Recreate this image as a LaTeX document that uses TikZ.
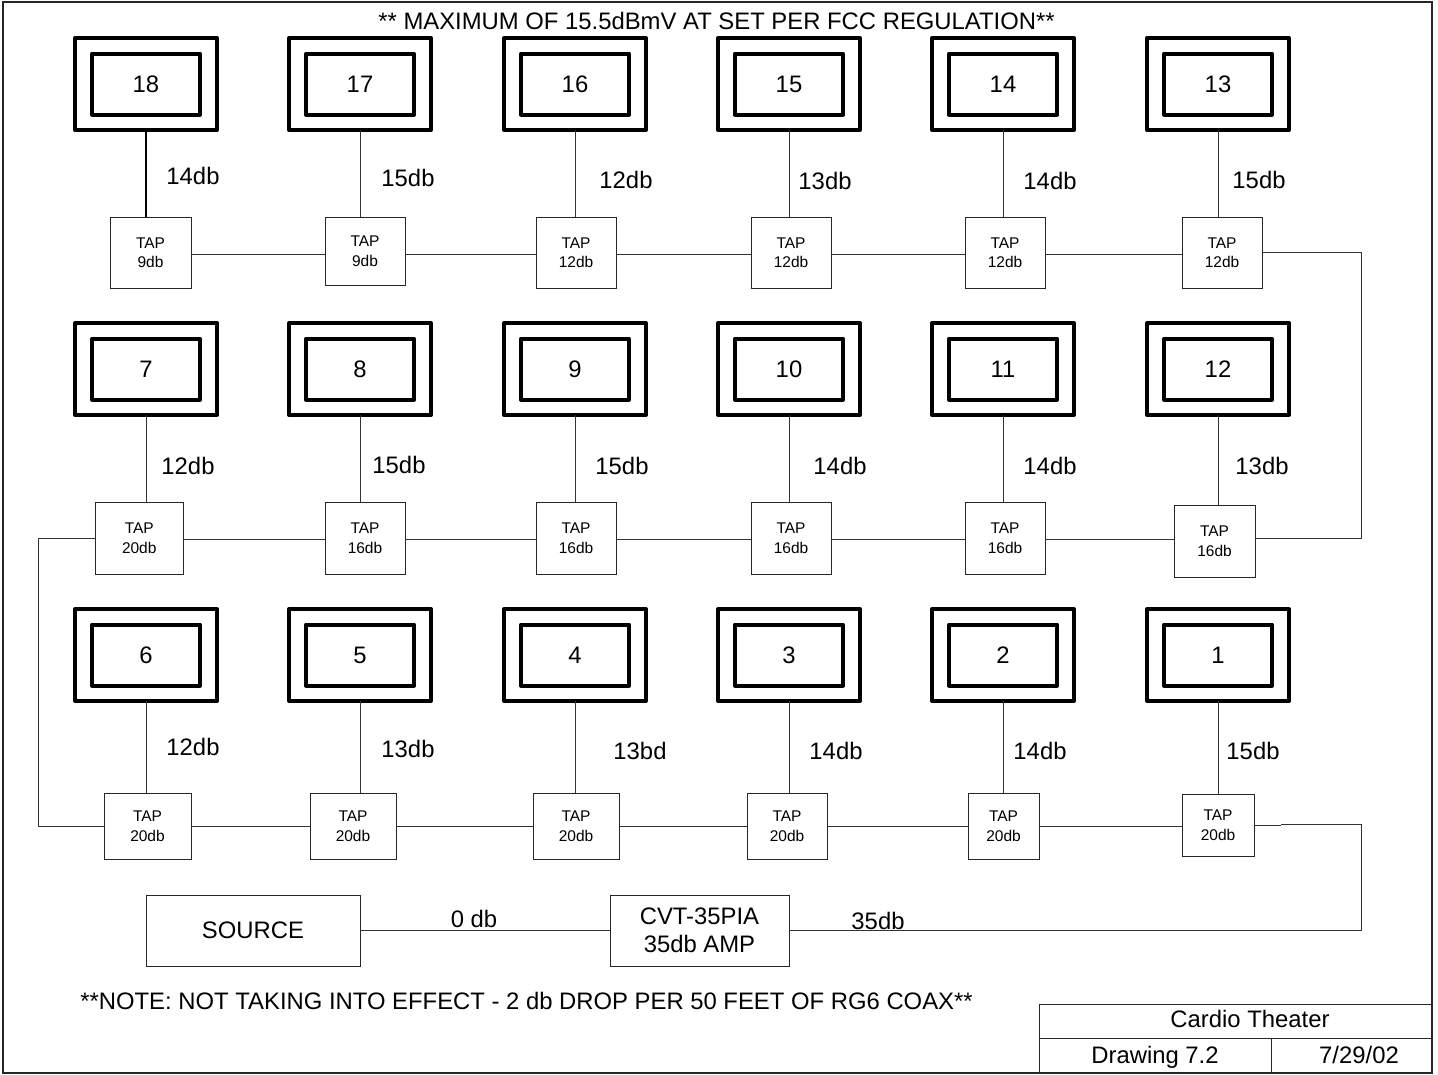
\documentclass[tikz,border=0pt]{standalone}
\usepackage{fontspec}
\setmainfont{Liberation Sans}
\tikzset{
    wire/.style={line width=1pt, black!80},
    screenouter/.style={draw, line width=4pt, line join=round, minimum width=142pt, minimum height=92pt, inner sep=0pt, outer sep=0pt},
    screeninner/.style={draw, line width=4pt, line join=round, minimum width=108pt, minimum height=61pt, inner sep=0pt, outer sep=0pt, font=\fontsize{23.85}{28}\selectfont},
    tapbox/.style={draw, line width=1pt, black!85, text=black, inner sep=0pt, outer sep=0pt, align=center, font=\fontsize{15.5}{19.5}\selectfont},
    dblabel/.style={inner sep=0pt, font=\fontsize{23.85}{28}\selectfont},
    bigbox/.style={draw, line width=1pt, black!85, text=black, inner sep=0pt, outer sep=0pt, minimum height=71pt, align=center, font=\fontsize{23.85}{28}\selectfont},
}
\begin{document}
\begin{tikzpicture}[x=1pt,y=-1pt]
    \useasboundingbox (0,0) rectangle (1438,1074);
    \fill[white] (0,0) rectangle (1438,1074);

    % outer frame and title block
    \draw[line width=1.3pt, black!85] (3,2) rectangle (1432,1073);
    \draw[line width=1pt, black!85] (1039,1073) -- (1039,1004) -- (1432,1004);
    \draw[line width=1pt, black!85] (1039,1038) -- (1432,1038);
    \draw[line width=1pt, black!85] (1271,1038) -- (1271,1073);
    \node[dblabel] (titleblock) at (1250,1019) {Cardio Theater};
    \node[dblabel, anchor=base] (drawingno) at (1155,1063) {Drawing 7.2};
    \node[dblabel, anchor=base] (drawingdate) at (1359,1063) {7/29/02};

    \node[dblabel] (topnote) at (716.5,21) {** MAXIMUM OF 15.5dBmV AT SET PER FCC REGULATION**};
    \node[dblabel] (bottomnote) at (526.5,1001) {**NOTE: NOT TAKING INTO EFFECT - 2 db DROP PER 50 FEET OF RG6 COAX**};

    % screens
    \foreach \n/\x/\y in {18/146/84, 17/360/84, 16/575/84, 15/789/84, 14/1003/84, 13/1218/84,
                          7/146/369, 8/360/369, 9/575/369, 10/789/369, 11/1003/369, 12/1218/369,
                          6/146/655, 5/360/655, 4/575/655, 3/789/655, 2/1003/655, 1/1218/655} {
        \node[screenouter] (outer\n) at (\x,\y) {};
        \node[screeninner] (screen\n) at (\x,\y) {\n};
    }

    % taps: name, left, right, top, bottom, value
    \foreach \n/\xa/\xb/\ya/\yb/\d in {18/110/191/217/288/9, 17/325/405/217/285/9, 16/536/616/217/288/12,
                                       15/751/831/217/288/12, 14/965/1045/217/288/12, 13/1182/1262/217/288/12,
                                       7/95.5/183/502/574/20, 8/325/405/502/574/16, 9/536/616/502/574/16,
                                       10/751/831/502/574/16, 11/965/1045/502/574/16, 12/1174/1255/505/577/16,
                                       6/104/191/793/859/20, 5/310/396/793/859/20, 4/533/619/793/859/20,
                                       3/747/827/793/859/20, 2/968/1039/793/859/20, 1/1182/1254/794/856/20} {
        \node[tapbox, minimum width={(\xb-\xa)*1pt}, minimum height={(\yb-\ya)*1pt}] (tap\n) at ({(\xa+\xb)/2},{(\ya+\yb)/2}) {TAP\\\d db};
    }

    % screen to tap
    \foreach \n in {17,16,15,14,13,7,8,9,10,11,12,6,5,4,3,2,1} \draw[wire] (outer\n.south) -- (outer\n.south |- tap\n.north);
    \draw[line width=2pt] (outer18.south) -- (outer18.south |- tap18.north);

    % drop levels
    \foreach \t/\x/\y in {14/193/176, 15/408/178, 12/626/180, 13/825/181, 14/1050/181, 15/1259/180,
                          12/188/466, 15/399/465, 15/622/466, 14/840/466, 14/1050/466, 13/1262/466,
                          12/193/747, 13/408/749, 14/836/751, 14/1040/751, 15/1253/751}
        \node[dblabel] at (\x,\y) {\t db};
    \node[dblabel] (misprint) at (640,751) {13bd};

    % tap to tap
    \coordinate (busa) at (0,254);
    \coordinate (busb) at (0,539);
    \coordinate (busc) at (0,826);
    \foreach \a/\b in {18/17, 17/16, 16/15, 15/14, 14/13} \draw[wire] (tap\a.east |- busa) -- (tap\b.west |- busa);
    \foreach \a/\b in {7/8, 8/9, 9/10, 10/11, 11/12} \draw[wire] (tap\a.east |- busb) -- (tap\b.west |- busb);
    \foreach \a/\b in {6/5, 5/4, 4/3, 3/2, 2/1} \draw[wire] (tap\a.east |- busc) -- (tap\b.west |- busc);

    % risers
    \coordinate (upright) at (1361,252);
    \coordinate (midright) at (1361,538);
    \coordinate (leftup) at (38.7,538);
    \coordinate (leftdown) at (38.7,826);
    \coordinate (lowright) at (1361,824.5);
    \coordinate (lowjog) at (1281,825.5);
    \coordinate (ampright) at (1361,930);
    \draw[wire] (tap13.east |- upright) -- (upright) -- (midright) -- (tap12.east |- midright);
    \draw[wire] (tap7.west |- leftup) -- (leftup) -- (leftdown) -- (tap6.west |- leftdown);

    % source and amplifier
    \node[bigbox, minimum width=214pt] (source) at (253,930.5) {SOURCE};
    \node[bigbox, minimum width=179pt] (amp) at (699.5,930.5) {CVT-35PIA\\35db AMP};
    \draw[wire] (source.east) -- (amp.west);
    \draw[wire] (amp.east |- ampright) -- (ampright) -- (lowright) -- (lowjog |- lowright);
    \draw[wire] (lowjog) -- (tap1.east |- lowjog);
    \node[dblabel] (sourcelevel) at (474,919) {0 db};
    \node[dblabel] (amplevel) at (878,921) {35db};

\end{tikzpicture}
\end{document}
